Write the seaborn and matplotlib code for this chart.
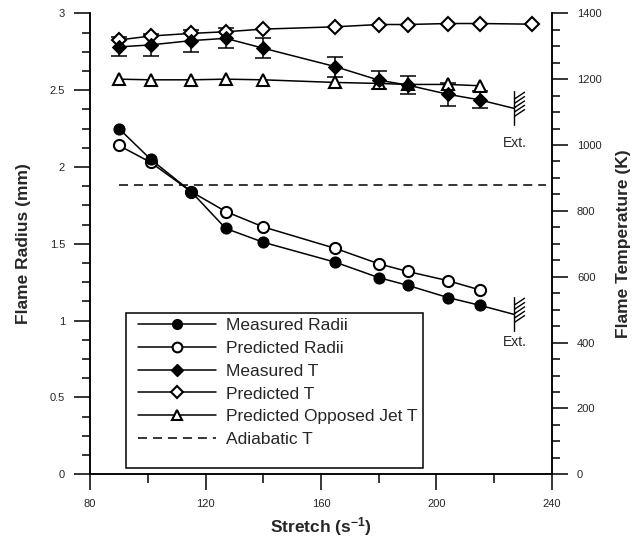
# Flame radius / flame temperature vs stretch

import numpy as np
import matplotlib
matplotlib.use("Agg")
import matplotlib.pyplot as plt
import seaborn as sns
from matplotlib.lines import Line2D
from matplotlib.path import Path
from matplotlib.patches import Rectangle
from matplotlib.ticker import MultipleLocator, FuncFormatter


# =========================================
# Data
# =========================================

stretch = [90, 101, 115, 127, 140, 165, 180, 190, 204, 215]
measured_radii = [2.25, 2.05, 1.84, 1.60, 1.51, 1.38, 1.28, 1.23, 1.15, 1.10]
predicted_radii = [2.14, 2.03, 1.84, 1.71, 1.61, 1.47, 1.37, 1.32, 1.26, 1.20]

measured_T = [1298, 1304, 1317, 1324, 1294, 1238, 1197, 1182, 1154, 1137]
measured_T_err = [29, 33, 33, 30, 30, 30, 28, 27, 35, 26]

predicted_T_stretch = [90, 101, 115, 127, 140, 165, 180, 190, 204, 215, 233]
predicted_T = [1319, 1331, 1339, 1344, 1352, 1359, 1366, 1366, 1369, 1369, 1367]

opposed_jet_T = [1200, 1198, 1198, 1200, 1198, 1190, 1187, 1184, 1184, 1180]

# extinction end points
ext_stretch = 227
ext_radius = 1.04
ext_T = 1111

adiabatic_stretch = [90, 238]
adiabatic_T = [880, 880]

legend_labels = ["Measured Radii", "Predicted Radii", "Measured T",
                 "Predicted T", "Predicted Opposed Jet T", "Adiabatic T"]


# =========================================
# Style
# =========================================

sns.set_style("ticks")
plt.rcParams['font.family'] = ['Liberation Sans', 'DejaVu Sans']
plt.rcParams['mathtext.fontset'] = 'custom'
plt.rcParams['mathtext.rm'] = 'Liberation Sans:bold'
plt.rcParams['mathtext.it'] = 'Liberation Sans:bold'
plt.rcParams['mathtext.bf'] = 'Liberation Sans:bold'

LW = 1.1
MEW = 1.5

fig = plt.figure(figsize=(6.44, 5.41), dpi=100)
ax = fig.add_axes([0.1398, 0.1233, 0.7172, 0.8521])
ax2 = ax.twinx()

# extinction hatch marker
verts = [(0, -1), (0, 1)]
codes = [Path.MOVETO, Path.LINETO]
for yy in [-0.45, -0.2, 0.05, 0.3, 0.55]:
    verts += [(0, yy), (0.6, yy + 0.4)]
    codes += [Path.MOVETO, Path.LINETO]
hatch = Path(verts, codes)


# =========================================
# Radii (left axis)
# =========================================

sns.lineplot(x=stretch + [ext_stretch], y=measured_radii + [ext_radius],
             ax=ax, color='black', lw=LW, sort=False, estimator=None)
sns.lineplot(x=stretch, y=predicted_radii, ax=ax, color='black', lw=LW,
             sort=False, estimator=None)
sns.lineplot(x=stretch, y=predicted_radii, ax=ax, color='black', linestyle='none',
             marker='o', markersize=8, markerfacecolor='white',
             markeredgecolor='black', markeredgewidth=MEW)
sns.lineplot(x=stretch, y=measured_radii, ax=ax, color='black', linestyle='none',
             marker='o', markersize=8, markerfacecolor='black',
             markeredgecolor='black')
ax.plot([ext_stretch], [ext_radius], linestyle='none', marker=hatch,
        markersize=25, markeredgecolor='black', markeredgewidth=1.0,
        fillstyle='none')
ax.annotate("Ext.", xy=(ext_stretch, ext_radius), xytext=(0, -19.5),
            textcoords='offset points', ha='center', va='center', fontsize=10)


# =========================================
# Temperatures (right axis)
# =========================================

sns.lineplot(x=adiabatic_stretch, y=adiabatic_T, ax=ax2, color='black', lw=LW,
             linestyle=(0, (5.9, 3.9)))
sns.lineplot(x=stretch, y=opposed_jet_T, ax=ax2, color='black', lw=LW,
             sort=False, estimator=None)
sns.lineplot(x=predicted_T_stretch, y=predicted_T, ax=ax2, color='black', lw=LW,
             sort=False, estimator=None)
sns.lineplot(x=stretch + [ext_stretch], y=measured_T + [ext_T], ax=ax2,
             color='black', lw=LW, sort=False, estimator=None)

ax2.errorbar(stretch, measured_T, yerr=measured_T_err, fmt='none',
             ecolor='black', elinewidth=LW, capsize=6, capthick=LW)

sns.lineplot(x=stretch, y=opposed_jet_T, ax=ax2, color='black', linestyle='none',
             marker='^', markersize=8, markerfacecolor='white',
             markeredgecolor='black', markeredgewidth=MEW)
sns.lineplot(x=predicted_T_stretch, y=predicted_T, ax=ax2, color='black',
             linestyle='none', marker='D', markersize=7, markerfacecolor='white',
             markeredgecolor='black', markeredgewidth=MEW)
sns.lineplot(x=stretch, y=measured_T, ax=ax2, color='black', linestyle='none',
             marker='D', markersize=7, markerfacecolor='black',
             markeredgecolor='black')
ax2.plot([ext_stretch], [ext_T], linestyle='none', marker=hatch,
         markersize=25, markeredgecolor='black', markeredgewidth=1.0,
         fillstyle='none')
ax2.annotate("Ext.", xy=(ext_stretch, ext_T), xytext=(0, -25),
             textcoords='offset points', ha='center', va='center', fontsize=10)


# =========================================
# Axes
# =========================================

ax.set_xlim(80, 240)
ax.set_ylim(0, 3)
ax2.set_ylim(0, 1400)

ax.xaxis.set_major_locator(MultipleLocator(40))
ax.xaxis.set_minor_locator(MultipleLocator(20))
ax.yaxis.set_major_locator(MultipleLocator(0.5))
ax.yaxis.set_minor_locator(MultipleLocator(0.125))
ax.yaxis.set_major_formatter(FuncFormatter(lambda v, p: "%g" % v))
ax2.yaxis.set_major_locator(MultipleLocator(200))
ax2.yaxis.set_minor_locator(MultipleLocator(50))

for a in (ax, ax2):
    a.tick_params(which='major', direction='out', length=11.5, width=LW,
                  labelsize=8, pad=6.5, color='black')
    a.tick_params(which='minor', direction='out', length=6, width=LW,
                  color='black')
    for s in a.spines.values():
        s.set_linewidth(LW)
        s.set_color('black')
    a.spines['top'].set_visible(False)
ax.tick_params(axis='x', which='minor', length=6.5)

ax.set_xlabel(r"Stretch (s$^{-1}$)", fontsize=12.5, fontweight='bold')
ax.set_ylabel("Flame Radius (mm)", fontsize=12.5, fontweight='bold')
ax2.set_ylabel("Flame Temperature (K)", fontsize=12.5, fontweight='bold')
ax.xaxis.set_label_coords(0.5, -0.1143)
ax.xaxis.label.set_va('center')
ax.yaxis.set_label_coords(-0.1443, 0.5)
ax.yaxis.label.set_va('center')
ax2.yaxis.set_label_coords(1.155, 0.5)
ax2.yaxis.label.set_va('center')


# =========================================
# Legend
# =========================================

handles = [
    Line2D([], [], color='black', lw=LW, marker='o', markersize=7,
           markerfacecolor='black', markeredgecolor='black'),
    Line2D([], [], color='black', lw=LW, marker='o', markersize=7,
           markerfacecolor='white', markeredgecolor='black', markeredgewidth=MEW),
    Line2D([], [], color='black', lw=LW, marker='D', markersize=6,
           markerfacecolor='black', markeredgecolor='black'),
    Line2D([], [], color='black', lw=LW, marker='D', markersize=6,
           markerfacecolor='white', markeredgecolor='black', markeredgewidth=MEW),
    Line2D([], [], color='black', lw=LW, marker='^', markersize=7,
           markerfacecolor='white', markeredgecolor='black', markeredgewidth=MEW),
    Line2D([], [], color='black', lw=LW, linestyle=(0, (5.9, 3.9))),
]

box = Rectangle((0.077, 0.014), 0.644, 0.336, transform=ax2.transAxes,
                facecolor='white', edgecolor='black', lw=LW, zorder=10)
ax2.add_patch(box)
leg = ax2.legend(handles, legend_labels, loc='upper left',
                 bbox_to_anchor=(0.1045, 0.339), borderaxespad=0, borderpad=0,
                 frameon=False, fontsize=12.5, handlelength=4.5,
                 handletextpad=0.55, labelspacing=0.44)
leg.set_zorder(11)

plt.savefig("out.png", dpi=100)
